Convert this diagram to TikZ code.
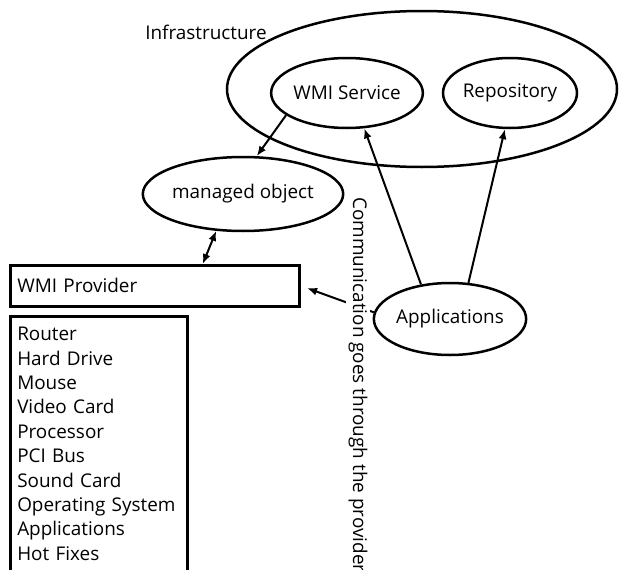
\documentclass[tikz,border=0pt]{standalone}
\usepackage{fontspec}
\setmainfont{Open Sans}
\usetikzlibrary{shapes.geometric,arrows.meta}

\begin{document}
\begin{tikzpicture}[x=1pt,y=-1pt,line width=2.5pt,
    every node/.style={font=\fontsize{18.9}{24.4}\selectfont},
    oval/.style={draw,ellipse,inner sep=0pt},
    box/.style={draw,rectangle,anchor=north west,align=left,inner xsep=7pt},
    link/.style={-{Latex[length=10pt,width=8pt]},line width=2pt},
    twoway/.style={{Latex[length=10pt,width=8pt]}-{Latex[length=10pt,width=8pt]},line width=2pt}]
  \useasboundingbox (0,0) rectangle (619,570);
  \clip (0,0) rectangle (619,570);
  % infrastructure and what lives in it
  \node[oval,minimum width=390,minimum height=156] (infra) at (422,89) {};
  \node (infralbl) at (206,32) {Infrastructure};
  \node[oval,minimum width=130,minimum height=70] (wmisvc) at (347,93) {WMI Service};
  \node[oval,minimum width=134,minimum height=70] (repo) at (510,93) {Repository};
  % left side
  \node[oval,minimum width=180,minimum height=74] (mobj) at (243,194) {managed object};
  \node[box,text width=275,minimum height=41] (prov) at (9,264) {WMI Provider};
  \node[box,text width=163,inner ysep=11pt] (items) at (9,315) {Router\\Hard Drive\\Mouse\\Video Card\\Processor\\PCI Bus\\Sound Card\\Operating System\\Applications\\Hot Fixes\\ \mbox{}};
  % applications
  \node[oval,minimum width=132,minimum height=72] (apps) at (450,319) {Applications};
  % connectors
  \draw[link] (wmisvc.200) -- (mobj.70);
  \draw[twoway] (mobj.234) -- ([xshift=48pt]prov.north);
  \draw[link] (apps.130) -- (wmisvc.-64);
  \draw[link] (apps.63) -- (repo.262);
  \draw[link,shorten >=7pt] (apps.175) -- (prov.east);
  % the note across the line
  \node[rotate=-90,anchor=west,fill=white,inner xsep=0pt,inner ysep=3pt] (note) at (358,196) {Communication goes through the provider};
\end{tikzpicture}
\end{document}
